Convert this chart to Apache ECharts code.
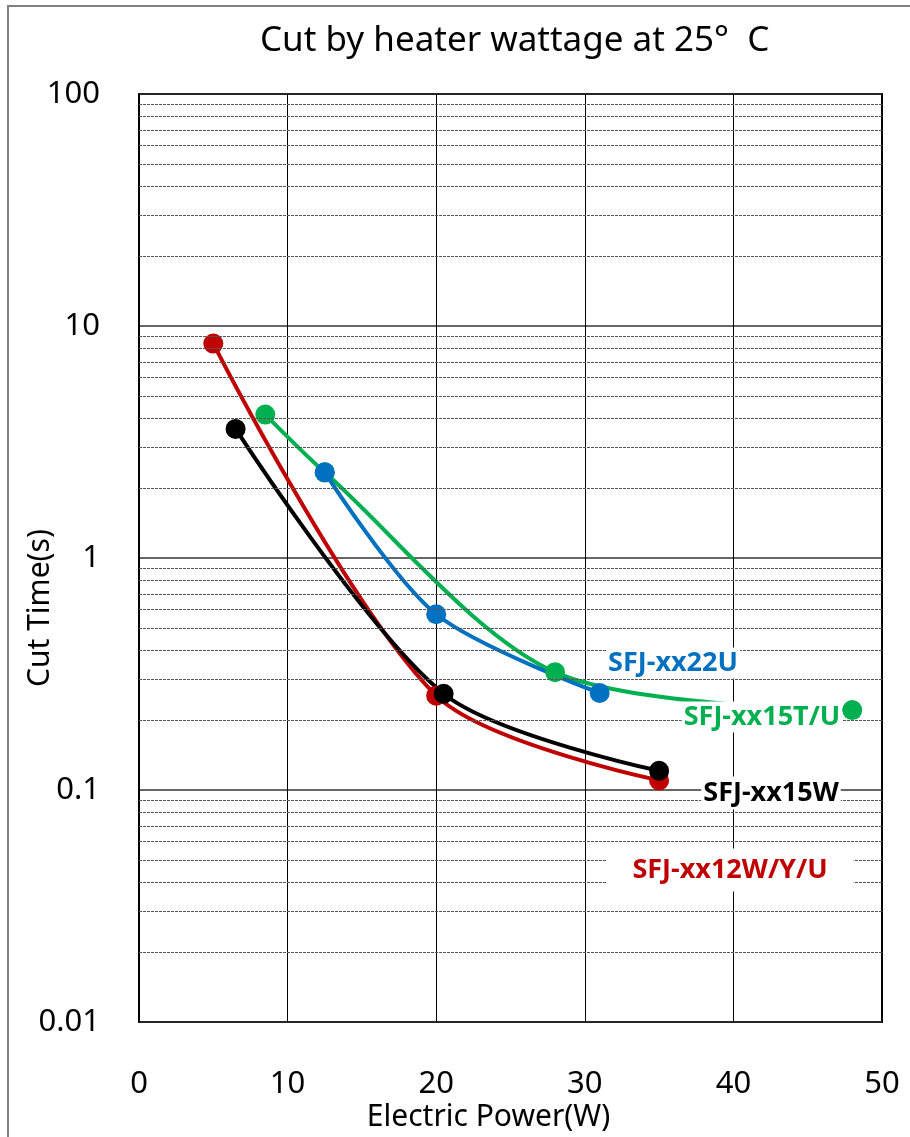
<!DOCTYPE html>
<html>
<head>
<meta charset="utf-8">
<script src="https://cdn.jsdelivr.net/npm/echarts@6/dist/echarts.min.js"></script>
<style>
  html, body { margin: 0; padding: 0; background: #fff; }
  #chart { width: 910px; height: 1137px; }
</style>
</head>
<body>
<div id="chart"></div>
<script>
// data
const powerRed = [5, 20, 35]
const timeRed = [8.4, 0.255, 0.11]
const powerBlack = [6.5, 20.5, 35]
const timeBlack = [3.6, 0.26, 0.121]
const powerGreen = [8.5, 12.5, 28, 48]
const timeGreen = [4.15, 2.34, 0.322, 0.221]
const powerBlue = [12.5, 20, 31]
const timeBlue = [2.34, 0.572, 0.262]

const xTicks = [0, 10, 20, 30, 40, 50]
const decades = [0.01, 0.1, 1, 10]
const minorSteps = [2, 3, 4, 5, 6, 7, 8, 9]

const font = 'Noto Sans'

function pairs(xs, ys) {
  return xs.map((x, i) => [x, ys[i]])
}

// dotted minor grid lines of the log axis
const minorLines = []
decades.forEach((d) => {
  minorSteps.forEach((m) => {
    minorLines.push({ yAxis: Number((d * m).toPrecision(2)) })
  })
})

function curve(name, color, data) {
  return {
    name: name,
    type: 'line',
    data: data,
    smooth: 0.3,
    symbol: 'circle',
    symbolSize: 20,
    showAllSymbol: true,
    lineStyle: { color: color, width: 4 },
    itemStyle: { color: color },
    z: 3,
  }
}

function tag(text, color, cx, cy, pad) {
  return {
    type: 'text',
    x: cx,
    y: cy,
    z: 100,
    style: {
      text: text,
      fill: color,
      font: 'bold 27px "' + font + '"',
      textAlign: 'center',
      textVerticalAlign: 'middle',
      backgroundColor: '#fff',
      padding: pad,
    },
  }
}

const chart = echarts.init(document.getElementById('chart'))
chart.setOption({
  animation: false,
  backgroundColor: '#fff',
  textStyle: { fontFamily: font },
  title: {
    text: 'Cut by heater wattage at 25°  C',
    left: 260,
    top: 24,
    padding: 0,
    textStyle: { fontSize: 35, fontWeight: 'normal', color: '#000', fontFamily: font },
  },
  grid: {
    left: 139,
    right: 28,
    top: 94,
    bottom: 115,
    outerBoundsMode: 'none',
    show: true,
    borderColor: '#000',
    borderWidth: 2,
  },
  xAxis: {
    type: 'value',
    min: xTicks[0],
    max: xTicks[xTicks.length - 1],
    interval: 10,
    name: 'Electric Power(W)',
    nameLocation: 'middle',
    nameGap: 80,
    nameMoveOverlap: false,
    nameTextStyle: { fontSize: 30, color: '#000', padding: [0, 44, 0, 0] },
    axisLine: { show: false },
    axisTick: { show: false },
    axisLabel: { fontSize: 31, color: '#000', margin: 47 },
    splitLine: { show: true, lineStyle: { color: '#000', width: 1 } },
  },
  yAxis: {
    type: 'log',
    logBase: 10,
    min: 0.01,
    max: 100,
    name: 'Cut Time(s)',
    nameLocation: 'middle',
    nameGap: 84,
    nameMoveOverlap: false,
    nameTextStyle: { fontSize: 30, color: '#000', padding: [0, 100, 0, 0] },
    axisLine: { show: false },
    axisTick: { show: false },
    axisLabel: {
      fontSize: 31,
      color: '#000',
      margin: 39,
      formatter: (v) => String(Number(Number(v).toPrecision(2))),
    },
    splitLine: { show: true, lineStyle: { color: '#333', width: 1.5 } },
  },
  series: [
    {
      name: 'grid',
      type: 'line',
      data: [],
      z: 1,
      silent: true,
      markLine: {
        silent: true,
        symbol: 'none',
        label: { show: false },
        lineStyle: { color: '#555', width: 1, type: [3, 1] },
        data: minorLines,
      },
    },
    curve('SFJ-xx12W/Y/U', '#C00000', pairs(powerRed, timeRed)),
    curve('SFJ-xx15W', '#000000', pairs(powerBlack, timeBlack)),
    curve('SFJ-xx15T/U', '#00B050', pairs(powerGreen, timeGreen)),
    curve('SFJ-xx22U', '#0070C0', pairs(powerBlue, timeBlue)),
  ],
  graphic: [
    {
      type: 'rect',
      z: -10,
      shape: { x: 8, y: 6, width: 1000, height: 1200 },
      style: { fill: null, stroke: '#808080', lineWidth: 2 },
    },
    tag('SFJ-xx22U', '#0070C0', 673, 663, [2, 2, 2, 2]),
    tag('SFJ-xx15T/U', '#00B050', 762, 717, [2, 2, 2, 2]),
    tag('SFJ-xx15W', '#000000', 771, 793, [3, 2, 3, 2]),
    tag('SFJ-xx12W/Y/U', '#C00000', 730, 870, [8, 26, 8, 26]),
  ],
})
</script>
</body>
</html>
